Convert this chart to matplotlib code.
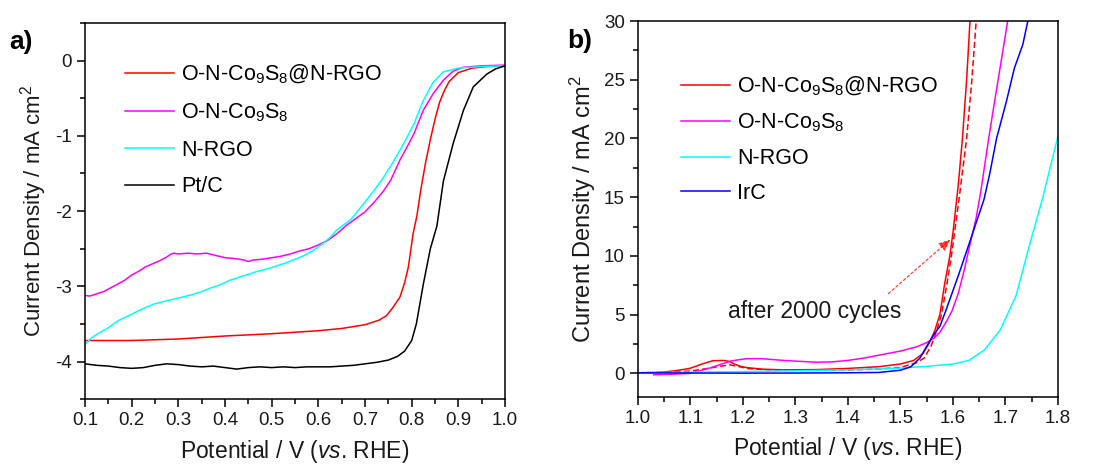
"""ORR (a) and OER (b) polarisation curves, two panels side by side."""
import matplotlib
matplotlib.use("Agg")
import matplotlib.pyplot as plt
from matplotlib.ticker import MultipleLocator

plt.rcParams["font.family"] = ["Liberation Sans", "DejaVu Sans"]
plt.rcParams["mathtext.fontset"] = "custom"
plt.rcParams["mathtext.rm"] = "Liberation Sans"
plt.rcParams["mathtext.it"] = "Liberation Sans:italic"
plt.rcParams["mathtext.bf"] = "Liberation Sans:bold"
plt.rcParams["mathtext.default"] = "regular"

RED = "#ff0000"
MAGENTA = "#ff00ff"
CYAN = "#00ffff"
BLUE = "#0000ff"
BLACK = "#000000"
TEXT = "#1a1a1a"

LABEL_HYBRID = "O-N-Co$_{9}$S$_{8}$@N-RGO"
LABEL_CO9S8 = "O-N-Co$_{9}$S$_{8}$"
LABEL_NRGO = "N-RGO"
LABEL_PTC = "Pt/C"
LABEL_IRC = "IrC"

# ---- panel a: ORR (potential V vs RHE, current density mA cm-2)
orr_hybrid_v = [0.10, 0.20, 0.30, 0.40, 0.50, 0.60, 0.65, 0.70, 0.73, 0.746, 0.76,
                0.775, 0.785, 0.793, 0.803, 0.811, 0.82, 0.83, 0.84, 0.85, 0.86,
                0.87, 0.88, 0.90, 0.93, 0.96, 1.00]
orr_hybrid_j = [-3.72, -3.72, -3.70, -3.66, -3.63, -3.59, -3.56, -3.51, -3.45, -3.39, -3.28,
                -3.14, -2.95, -2.74, -2.30, -2.07, -1.70, -1.35, -1.05, -0.78, -0.55,
                -0.40, -0.28, -0.16, -0.10, -0.08, -0.07]

orr_co9s8_v = [0.10, 0.11, 0.125, 0.14, 0.155, 0.17, 0.185, 0.20, 0.215, 0.23, 0.245,
               0.26, 0.275, 0.285, 0.29, 0.30, 0.32, 0.34, 0.36, 0.38, 0.40, 0.42,
               0.44, 0.45, 0.46, 0.48, 0.50, 0.52, 0.54, 0.56, 0.58, 0.60, 0.62,
               0.64, 0.66, 0.68, 0.70, 0.72, 0.74, 0.755, 0.775, 0.79, 0.805,
               0.825, 0.846, 0.868, 0.889, 0.91, 0.95, 1.00]
orr_co9s8_j = [-3.12, -3.13, -3.10, -3.07, -3.02, -2.97, -2.92, -2.85, -2.80, -2.74, -2.70,
               -2.66, -2.61, -2.57, -2.56, -2.57, -2.56, -2.57, -2.56, -2.59, -2.62, -2.63,
               -2.65, -2.67, -2.65, -2.64, -2.62, -2.60, -2.57, -2.53, -2.50, -2.45, -2.39,
               -2.30, -2.19, -2.10, -2.01, -1.88, -1.73, -1.59, -1.32, -1.15, -0.97,
               -0.66, -0.44, -0.26, -0.14, -0.09, -0.07, -0.06]

orr_nrgo_v = [0.10, 0.115, 0.13, 0.15, 0.17, 0.19, 0.21, 0.23, 0.25, 0.27, 0.29, 0.31,
              0.33, 0.35, 0.37, 0.39, 0.41, 0.43, 0.45, 0.47, 0.49, 0.51, 0.53, 0.55,
              0.57, 0.59, 0.61, 0.625, 0.64, 0.67, 0.70, 0.72, 0.74, 0.76, 0.775,
              0.79, 0.805, 0.825, 0.846, 0.868, 0.90, 0.95, 1.00]
orr_nrgo_j = [-3.77, -3.68, -3.62, -3.55, -3.46, -3.40, -3.34, -3.28, -3.23, -3.20, -3.17, -3.14,
              -3.11, -3.07, -3.02, -2.98, -2.92, -2.88, -2.84, -2.80, -2.77, -2.73, -2.69, -2.64,
              -2.59, -2.52, -2.43, -2.35, -2.25, -2.11, -1.88, -1.72, -1.55, -1.35, -1.19,
              -1.02, -0.84, -0.53, -0.29, -0.15, -0.10, -0.08, -0.07]

orr_ptc_v = [0.10, 0.125, 0.15, 0.175, 0.20, 0.225, 0.25, 0.275, 0.30, 0.325, 0.35,
             0.375, 0.40, 0.425, 0.45, 0.475, 0.50, 0.525, 0.55, 0.575, 0.60, 0.625,
             0.65, 0.675, 0.70, 0.725, 0.75, 0.77, 0.785, 0.80, 0.81, 0.825, 0.84,
             0.854, 0.868, 0.889, 0.911, 0.932, 0.961, 0.98, 1.00]
orr_ptc_j = [-4.03, -4.05, -4.06, -4.08, -4.09, -4.08, -4.05, -4.03, -4.04, -4.06, -4.07,
             -4.06, -4.08, -4.10, -4.08, -4.07, -4.08, -4.07, -4.08, -4.07, -4.07, -4.07,
             -4.06, -4.05, -4.03, -4.01, -3.98, -3.93, -3.86, -3.72, -3.50, -2.97, -2.50,
             -2.20, -1.60, -1.10, -0.66, -0.35, -0.18, -0.11, -0.07]

# ---- panel b: OER
oer_hybrid_v = [1.00, 1.03, 1.05, 1.075, 1.098, 1.11, 1.122, 1.143, 1.164, 1.175, 1.182,
                1.195, 1.206, 1.236, 1.278, 1.339, 1.399, 1.459, 1.50, 1.525, 1.543,
                1.555, 1.565, 1.575, 1.584, 1.594, 1.600, 1.610, 1.618, 1.626, 1.633]
oer_hybrid_j = [0.05, 0.07, 0.12, 0.25, 0.42, 0.60, 0.80, 1.08, 1.10, 1.00, 0.82,
                0.60, 0.50, 0.36, 0.30, 0.32, 0.42, 0.57, 0.80, 1.10, 1.70,
                2.60, 3.60, 5.00, 7.60, 10.0, 12.0, 16.0, 20.0, 25.0, 30.5]

oer_cycled_v = [1.00, 1.05, 1.10, 1.13, 1.155, 1.175, 1.19, 1.21, 1.25, 1.30, 1.40,
                1.45, 1.50, 1.53, 1.545, 1.558, 1.568, 1.578, 1.588, 1.597, 1.603,
                1.612, 1.626, 1.636, 1.645]
oer_cycled_j = [0.05, 0.08, 0.20, 0.40, 0.60, 0.72, 0.60, 0.40, 0.30, 0.28, 0.30,
                0.35, 0.50, 0.90, 1.30, 2.30, 3.50, 5.00, 7.50, 10.0, 12.0,
                15.0, 20.0, 25.0, 30.5]

oer_co9s8_v = [1.03, 1.06, 1.098, 1.12, 1.14, 1.16, 1.176, 1.19, 1.206, 1.236, 1.278,
               1.339, 1.37, 1.399, 1.43, 1.459, 1.50, 1.53, 1.549, 1.564, 1.575, 1.586,
               1.598, 1.61, 1.622, 1.635, 1.644, 1.653, 1.668, 1.678, 1.690, 1.706]
oer_co9s8_j = [-0.12, -0.08, 0.00, 0.25, 0.50, 0.80, 1.04, 1.15, 1.25, 1.25, 1.10,
               0.95, 0.98, 1.10, 1.30, 1.55, 1.90, 2.25, 2.60, 3.00, 3.50, 4.30,
               5.30, 6.80, 8.90, 11.5, 13.2, 15.5, 20.0, 22.8, 26.1, 30.5]

oer_nrgo_v = [1.00, 1.10, 1.20, 1.30, 1.40, 1.50, 1.55, 1.60, 1.63, 1.66, 1.69,
              1.72, 1.745, 1.77, 1.80]
oer_nrgo_j = [0.05, 0.10, 0.15, 0.22, 0.30, 0.45, 0.60, 0.80, 1.10, 2.00, 3.70,
              6.60, 10.8, 14.8, 20.2]

oer_irc_v = [1.00, 1.10, 1.20, 1.30, 1.40, 1.459, 1.50, 1.52, 1.537, 1.555, 1.565,
             1.575, 1.586, 1.61, 1.635, 1.659, 1.67, 1.683, 1.702, 1.717, 1.733, 1.745]
oer_irc_j = [0.05, 0.03, 0.02, 0.03, 0.05, 0.08, 0.27, 0.57, 1.30, 2.70, 3.40,
             4.00, 5.30, 8.30, 11.6, 14.8, 17.0, 20.0, 23.2, 26.0, 28.0, 30.5]

ANNOT_TEXT = "after 2000 cycles"
ANNOT_XY = (1.171, 5.3)
ARROW_FROM = (1.477, 6.8)
ARROW_TO = (1.595, 11.4)


def style_axes(ax):
    for s in ax.spines.values():
        s.set_linewidth(1.1)
        s.set_color(BLACK)
    ax.tick_params(which="both", direction="out", top=False, right=False,
                   labelsize=13.5, labelcolor=TEXT, width=1.1)
    ax.tick_params(which="major", length=6)
    ax.tick_params(which="minor", length=3.5)


fig = plt.figure(figsize=(11, 4.68), dpi=100)
ax_a = fig.add_axes([0.0773, 0.147, 0.3818, 0.804])
ax_b = fig.add_axes([0.58, 0.152, 0.3818, 0.803])

lw = 1.1
ax_a.plot(orr_hybrid_v, orr_hybrid_j, color=RED, lw=lw, label=LABEL_HYBRID)
ax_a.plot(orr_co9s8_v, orr_co9s8_j, color=MAGENTA, lw=lw, label=LABEL_CO9S8)
ax_a.plot(orr_nrgo_v, orr_nrgo_j, color=CYAN, lw=lw, label=LABEL_NRGO)
ax_a.plot(orr_ptc_v, orr_ptc_j, color=BLACK, lw=lw, label=LABEL_PTC)
ax_a.set_xlim(0.1, 1.0)
ax_a.set_ylim(-4.5, 0.5)
ax_a.xaxis.set_major_locator(MultipleLocator(0.1))
ax_a.xaxis.set_minor_locator(MultipleLocator(0.05))
ax_a.yaxis.set_major_locator(MultipleLocator(1))
ax_a.yaxis.set_minor_locator(MultipleLocator(0.5))
ax_a.yaxis.set_major_formatter(lambda v, p: f"{v:.0f}")
style_axes(ax_a)
ax_a.set_xlabel(r"Potential / V ($\it{vs}$. RHE)", fontsize=16.5, color=TEXT, labelpad=6)
ax_a.set_ylabel("Current Density / mA cm$^{2}$", fontsize=16, color=TEXT, labelpad=4)
ax_a.legend(loc="upper left", bbox_to_anchor=(0.095, 0.893), frameon=False,
            fontsize=15.5, handlelength=2.3, handletextpad=0.3, labelspacing=0.72,
            borderpad=0, borderaxespad=0)

ax_b.plot(oer_hybrid_v, oer_hybrid_j, color=RED, lw=lw, label=LABEL_HYBRID)
ax_b.plot(oer_cycled_v, oer_cycled_j, color=RED, lw=lw, ls=(0, (4, 2)))
ax_b.plot(oer_co9s8_v, oer_co9s8_j, color=MAGENTA, lw=lw, label=LABEL_CO9S8)
ax_b.plot(oer_nrgo_v, oer_nrgo_j, color=CYAN, lw=lw, label=LABEL_NRGO)
ax_b.plot(oer_irc_v, oer_irc_j, color=BLUE, lw=lw, label=LABEL_IRC)
ax_b.set_xlim(1.0, 1.8)
ax_b.set_ylim(-2, 30)
ax_b.xaxis.set_major_locator(MultipleLocator(0.1))
ax_b.xaxis.set_minor_locator(MultipleLocator(0.05))
ax_b.yaxis.set_major_locator(MultipleLocator(5))
ax_b.yaxis.set_minor_locator(MultipleLocator(2.5))
style_axes(ax_b)
ax_b.set_xlabel(r"Potential / V ($\it{vs}$. RHE)", fontsize=16.5, color=TEXT, labelpad=6)
ax_b.set_ylabel("Current Density / mA cm$^{2}$", fontsize=17, color=TEXT, labelpad=4)
ax_b.legend(loc="upper left", bbox_to_anchor=(0.102, 0.857), frameon=False,
            fontsize=15.5, handlelength=2.3, handletextpad=0.3, labelspacing=0.64,
            borderpad=0, borderaxespad=0)
ax_b.text(*ANNOT_XY, ANNOT_TEXT, fontsize=16.5, color=TEXT, ha="left", va="center")
ax_b.annotate("", xy=ARROW_TO, xytext=ARROW_FROM,
              arrowprops=dict(arrowstyle="-|>,head_length=0.7,head_width=0.3",
                              color=RED, lw=0.9, ls=(0, (2, 2)), alpha=0.75,
                              shrinkA=0, shrinkB=0))

fig.text(21 / 1100, 1 - 42 / 468, "a)", fontsize=19, fontweight="bold",
         ha="center", va="center", color=BLACK)
fig.text(580 / 1100, 1 - 41 / 468, "b)", fontsize=19, fontweight="bold",
         ha="center", va="center", color=BLACK)

fig.savefig("out.png", dpi=100)
